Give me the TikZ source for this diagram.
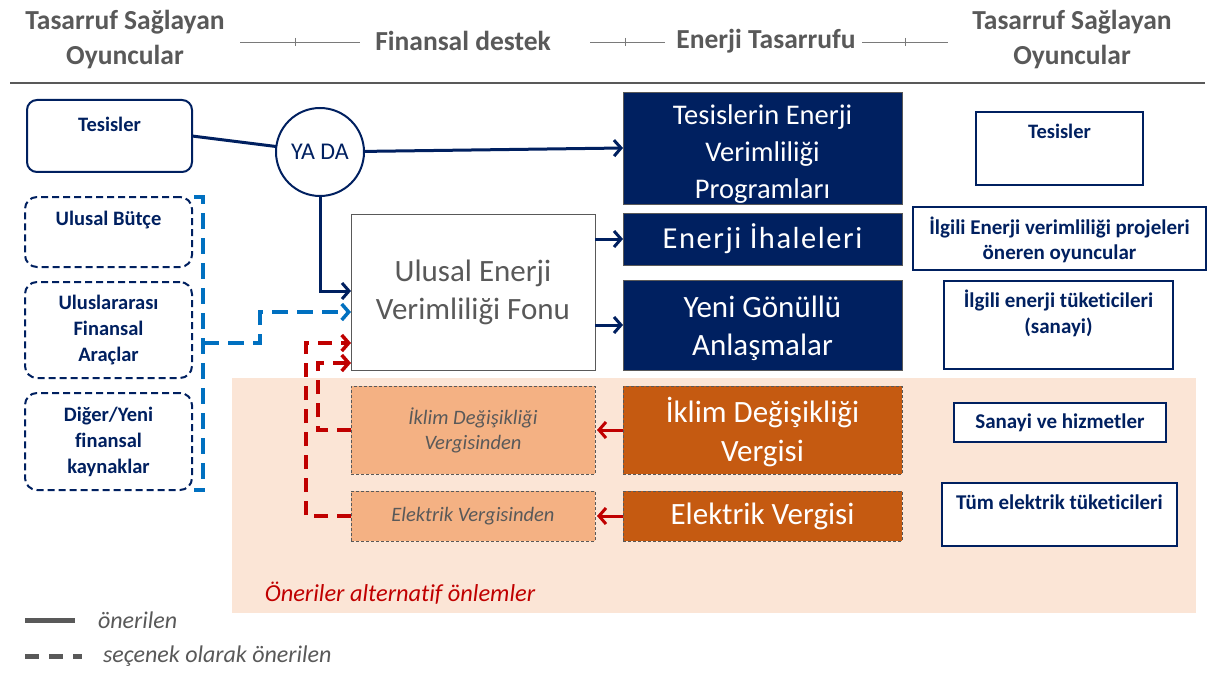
\documentclass[tikz,border=0pt]{standalone}
\usepackage{fontspec}
\setmainfont{Carlito}[Ligatures=NoCommon]
\usetikzlibrary{arrows.meta}
\definecolor{navy}{HTML}{002060}
\definecolor{txtgray}{HTML}{595959}
\definecolor{orng}{HTML}{C55A11}
\definecolor{lorng}{HTML}{F4B183}
\definecolor{pinkbg}{HTML}{FBE5D6}
\definecolor{bluec}{HTML}{0070C0}
\definecolor{redc}{HTML}{C00000}
\newcommand\fsz[2]{\fontsize{#1}{#2}\selectfont}
\begin{document}
\begin{tikzpicture}[x=1pt,y=-1pt,
  every node/.style={inner sep=0pt,outer sep=0pt},
  hdr/.style={font=\fsz{27.5}{35}\bfseries, text=txtgray, align=center},
  hline/.style={draw=txtgray!80, line width=0.8pt},
  sepline/.style={draw=txtgray, line width=1.2pt},
  lbox/.style={draw=navy, line width=2pt, rounded corners=10pt, fill=white},
  dbox/.style={draw=navy, line width=2pt, rounded corners=12pt, dash pattern=on 7pt off 4pt},
  btxt/.style={font=\fsz{20.5}{26}\bfseries, text=navy, align=center},
  rbox/.style={draw=navy, line width=2.5pt, fill=white},
  navybox/.style={fill=navy, draw=txtgray, line width=0.8pt, text=white, align=center, font=\fsz{31}{38}},
  wtxt/.style={text=white, align=center, font=\fsz{31}{38}},
  orbox/.style={fill=orng, draw=txtgray, line width=0.8pt, dash pattern=on 3pt off 2pt, text=white, align=center, font=\fsz{31}{39}},
  lobox/.style={fill=lorng, draw=txtgray, line width=0.8pt, dash pattern=on 3pt off 2pt, text=txtgray, align=center, font=\fsz{20.5}{25}\itshape},
  tip/.style={-{Straight Barb[length=7pt,width=16pt]}},
  navyline/.style={draw=navy, line width=3pt},
  bluedash/.style={draw=bluec, line width=3.5pt, dash pattern=on 16pt off 9pt},
  reddash/.style={draw=redc, line width=3.5pt, dash pattern=on 14pt off 9pt},
  redline/.style={draw=redc, line width=3pt},
  legtxt/.style={font=\fsz{24}{28}\itshape, text=txtgray, anchor=west}
]
\useasboundingbox[fill=white] (0,0) rectangle (1230,679);

% headers
\node[hdr] (h1) at (125,40) {Tasarruf Sağlayan\\Oyuncular};
\node[hdr] (h2) at (463,41) {Finansal destek};
\node[hdr] (h3) at (766,41) {Enerji Tasarrufu};
\node[hdr] (h4) at (1072,40) {Tasarruf Sağlayan\\Oyuncular};
\coordinate (la1) at (240,42); \coordinate (lb1) at (360,42); \coordinate (lt1) at (295,42);
\coordinate (la2) at (590,42); \coordinate (lb2) at (665,42); \coordinate (lt2) at (625,42);
\coordinate (la3) at (862,42); \coordinate (lb3) at (948,42); \coordinate (lt3) at (905,42);
\foreach \i in {1,2,3}{
  \draw[hline] (la\i) -- (lb\i);
  \draw[hline] ([yshift=4pt]lt\i) -- ([yshift=-4pt]lt\i);
}
\coordinate (s1) at (10,83); \coordinate (s2) at (1205,83);
\draw[sepline] (s1) -- (s2);

% pink background
\node[fill=pinkbg, minimum width=964pt, minimum height=235pt, anchor=north west] (bg) at (232,378) {};
\node[font=\fsz{24.4}{28}\itshape, text=redc] (alt) at (400,593) {Öneriler alternatif önlemler};

% left boxes
\node[lbox, minimum width=165pt, minimum height=72pt] (lt) at (109.5,136) {};
\node[btxt] (ltt) at (109.5,124) {Tesisler};
\node[dbox, minimum width=167pt, minimum height=70pt] (ub) at (108.5,232) {};
\node[btxt] (ubt) at (108.5,220) {Ulusal Bütçe};
\node[dbox, minimum width=167pt, minimum height=96pt] (uf) at (108.5,330) {};
\node[btxt] (uft) at (108.5,330) {Uluslararası\\Finansal\\Araçlar};
\node[dbox, minimum width=167pt, minimum height=97pt] (dy) at (108.5,441.5) {};
\node[btxt] (dyt) at (108.5,442) {Diğer/Yeni\\finansal\\kaynaklar};

% YA DA
\node[circle, draw=navy, line width=2pt, fill=white, minimum size=88pt, font=\fsz{24}{28}, text=navy] (yada) at (320,152) {YA DA};

% fund box
\node[draw=txtgray, line width=1pt, fill=white, minimum width=244pt, minimum height=156pt, align=center, text=txtgray, font=\fsz{31}{38}] (fonu) at (473,292) {Ulusal Enerji\\Verimliliği Fonu};

% navy boxes
\node[navybox, minimum width=279pt, minimum height=112pt] (tevp) at (762.5,148) {};
\node[wtxt, font=\fsz{28.5}{37}] (tevpt) at (762.5,154) {Tesislerin Enerji\\Verimliliği\\Programları};
\node[navybox, minimum width=279pt, minimum height=52pt, font=\fsz{30.5}{38}\addfontfeature{LetterSpace=5}] (ei) at (762.5,239) {Enerji İhaleleri};
\node[navybox, minimum width=279pt, minimum height=90pt] (yg) at (762.5,325) {};
\node[wtxt] (ygt) at (762.5,328) {Yeni Gönüllü\\Anlaşmalar};

% tax boxes
\node[lobox, minimum width=244pt, minimum height=88pt] (ikv) at (473,430) {İklim Değişikliği\\Vergisinden};
\node[lobox, minimum width=244pt, minimum height=50pt] (elv) at (473,516) {Elektrik Vergisinden};
\node[orbox, minimum width=279pt, minimum height=88pt] (ikV) at (762.5,430) {};
\node[wtxt, font=\fsz{31}{39}] (ikVt) at (762.5,432) {İklim Değişikliği\\Vergisi};
\node[orbox, minimum width=279pt, minimum height=50pt] (elV) at (762.5,516) {Elektrik Vergisi};

% right boxes
\node[rbox, minimum width=167pt, minimum height=73pt] (rt) at (1059.5,148.5) {};
\node[btxt] (rtt) at (1059.5,131) {Tesisler};
\node[rbox, minimum width=293pt, minimum height=63pt] (rp) at (1059.5,238.5) {};
\node[btxt, font=\fsz{21}{25}\bfseries] (rpt) at (1059.5,239.5) {İlgili Enerji verimliliği projeleri\\öneren oyuncular};
\node[rbox, minimum width=229pt, minimum height=88pt] (rc) at (1058.5,325) {};
\node[btxt, font=\fsz{21}{26}\bfseries] (rct) at (1058.5,313) {İlgili enerji tüketicileri\\(sanayi)};
\node[rbox, minimum width=212pt, minimum height=39pt] (rs) at (1060,422.5) {};
\node[btxt, font=\fsz{21}{26}\bfseries] (rst) at (1060,423) {Sanayi ve hizmetler};
\node[rbox, minimum width=235pt, minimum height=63pt] (re) at (1059.5,514.5) {};
\node[btxt, font=\fsz{21}{26}\bfseries] (ret) at (1059.5,502) {Tüm elektrik tüketicileri};

% navy connectors
\draw[navyline] (lt.east) -- (yada);
\draw[navyline, tip] (yada) -- (tevp.west);
\draw[navyline, tip] (yada.south) |- ([yshift=1pt]fonu.west);
\draw[navyline, tip] (fonu.east |- ei.west) -- (ei.west);
\draw[navyline, tip] (fonu.east |- yg.west) -- (yg.west);

% blue bracket and connector
\coordinate (bt1) at (194,197); \coordinate (bt2) at (203,197);
\coordinate (bb1) at (203,490); \coordinate (bb2) at (194,490);
\coordinate (bk) at (203,343);
\draw[bluedash] (bt1) -- (bt2) -- (bb1) -- (bb2);
\draw[bluedash, tip] (bk) -- ++(57,0) |- ([yshift=-20pt]fonu.west);

% red connectors
\draw[redline, tip] (ikV.west) -- ([xshift=2pt]ikv.east);
\draw[redline, tip] (elV.west) -- ([xshift=2pt]elv.east);
\draw[reddash, tip] (elv.west) -- ++(-45,0) |- ([yshift=-51pt]fonu.west);
\draw[reddash, tip] (ikv.west) -- ++(-33,0) |- ([yshift=-71pt]fonu.west);

% legend
\coordinate (g1a) at (25,620); \coordinate (g1b) at (75,620);
\coordinate (g2a) at (25,656); \coordinate (g2b) at (82,656);
\draw[draw=txtgray, line width=5pt] (g1a) -- (g1b);
\draw[draw=txtgray, line width=5pt, dash pattern=on 14pt off 10pt] (g2a) -- (g2b);
\node[legtxt] (lg1) at (98,620) {önerilen};
\node[legtxt] (lg2) at (103,656) {seçenek olarak önerilen};
\end{tikzpicture}
\end{document}
